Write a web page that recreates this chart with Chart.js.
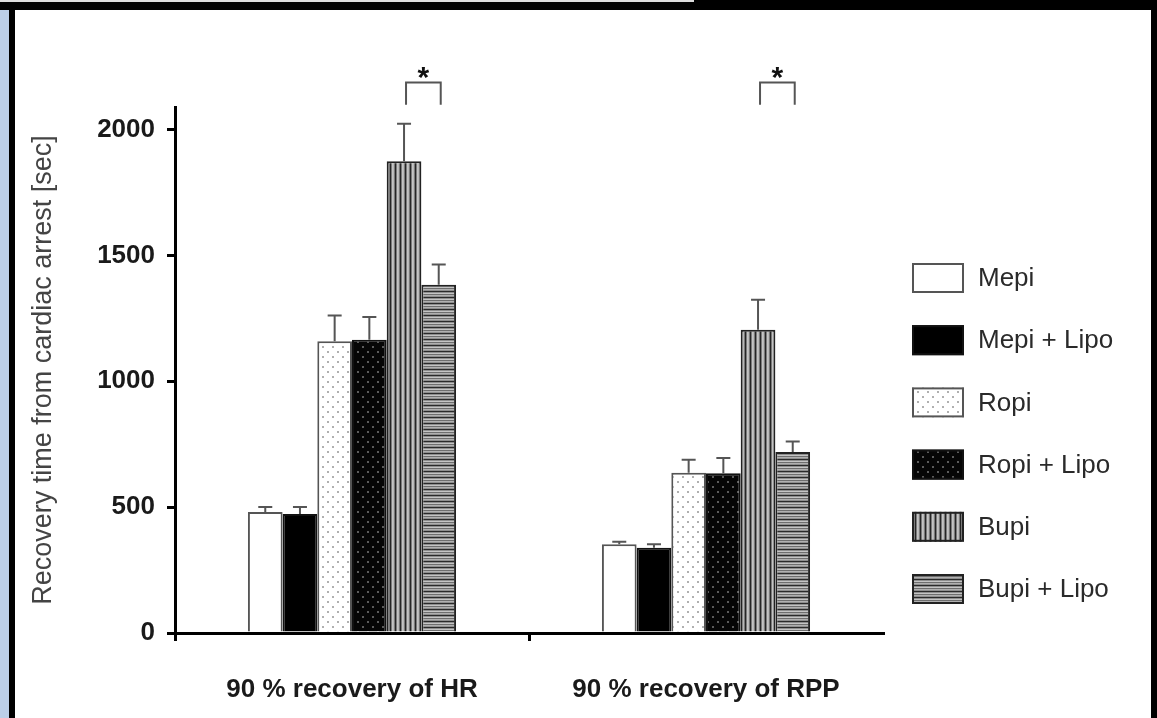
<!DOCTYPE html>
<html>
<head>
<meta charset="utf-8">
<script src="https://cdn.jsdelivr.net/npm/chart.js@4.4.1/dist/chart.umd.min.js"></script>
<style>
  html, body { margin: 0; padding: 0; background: #fff; }
  body { width: 1157px; height: 718px; position: relative; overflow: hidden; }
  .band-top { position: absolute; left: 0; top: 0; width: 1157px; height: 10px; background: #000; }
  .band-top-line { position: absolute; left: 0; top: 0; width: 694px; height: 2px; background: #ddd; }
  .strip-left { position: absolute; left: 0; top: 10px; width: 9px; height: 708px; background: #bccfe8; }
  .border-left { position: absolute; left: 9px; top: 10px; width: 6px; height: 708px; background: #000; }
  .border-right { position: absolute; right: 0; top: 0; width: 6px; height: 718px; background: #000; }
  canvas { position: absolute; left: 15px; top: 9px; }
</style>
</head>
<body>
<canvas id="grafico" width="1136" height="709"></canvas>
<div class="band-top"></div>
<div class="band-top-line"></div>
<div class="strip-left"></div>
<div class="border-left"></div>
<div class="border-right"></div>
<script>
// Datos
const categories = ['90 % recovery of HR', '90 % recovery of RPP'];
const seriesNames = ['Mepi', 'Mepi + Lipo', 'Ropi', 'Ropi + Lipo', 'Bupi', 'Bupi + Lipo'];

const mepi     = [481, 353];
const mepiLipo = [473, 339];
const ropi     = [1159, 637];
const ropiLipo = [1165, 635];
const bupi     = [1874, 1205];
const bupiLipo = [1384, 719];

const mepiErr     = [20, 10];
const mepiLipoErr = [28, 14];
const ropiErr     = [103, 51];
const ropiLipoErr = [91, 60];
const bupiErr     = [149, 119];
const bupiLipoErr = [80, 42];

const yTicks = [0, 500, 1000, 1500, 2000];
const sigMarks = ['*', '*'];   // Bupi vs Bupi + Lipo en cada grupo

const FONT = "'Liberation Sans', Arial, Helvetica, sans-serif";

// Texturas de las barras (estilo blanco y negro de la figura)
function makePattern(w, h, draw) {
  const c = document.createElement('canvas');
  c.width = w; c.height = h;
  const g = c.getContext('2d');
  draw(g);
  return g.createPattern(c, 'repeat');
}

const dotsLight = makePattern(10, 10, g => {
  g.fillStyle = '#fff'; g.fillRect(0, 0, 10, 10);
  g.fillStyle = '#b0b0b0'; g.fillRect(2, 2, 2, 2); g.fillRect(7, 7, 2, 2);
});
const dotsDark = makePattern(10, 10, g => {
  g.fillStyle = '#060606'; g.fillRect(0, 0, 10, 10);
  g.fillStyle = '#5c5c5c'; g.fillRect(2, 2, 2, 2); g.fillRect(7, 7, 2, 2);
});
const vStripes = makePattern(5, 4, g => {
  const cols = ['#262626', '#7a7a7a', '#c4c4c4', '#b8b8b8', '#7a7a7a'];
  cols.forEach((c, i) => { g.fillStyle = c; g.fillRect(i, 0, 1, 4); });
});
const hStripes = makePattern(4, 6, g => {
  const rows = ['#2a2a2a', '#8e8e8e', '#c4c4c4', '#6e6e6e', '#b0b0b0', '#8e8e8e'];
  rows.forEach((c, i) => { g.fillStyle = c; g.fillRect(0, i, 4, 1); });
});

const fills   = ['#ffffff', '#000000', dotsLight, dotsDark, vStripes, hStripes];
const borders = ['#555555', '#111111', '#555555', '#111111', '#222222', '#222222'];
const values  = [mepi, mepiLipo, ropi, ropiLipo, bupi, bupiLipo];
const errors  = [mepiErr, mepiLipoErr, ropiErr, ropiLipoErr, bupiErr, bupiLipoErr];

// Barras de error (solo hacia arriba, con tapa)
const errorBars = {
  id: 'errorBars',
  afterDatasetsDraw(chart) {
    const { ctx, scales: { y } } = chart;
    ctx.save();
    ctx.strokeStyle = '#555';
    ctx.lineWidth = 2;
    chart.data.datasets.forEach((ds, di) => {
      chart.getDatasetMeta(di).data.forEach((bar, i) => {
        const top = y.getPixelForValue(ds.data[i] + ds.errors[i]);
        ctx.beginPath();
        ctx.moveTo(bar.x, bar.y);
        ctx.lineTo(bar.x, top);
        ctx.moveTo(bar.x - 7, top);
        ctx.lineTo(bar.x + 7, top);
        ctx.stroke();
      });
    });
    ctx.restore();
  }
};

// Corchete de significancia entre Bupi y Bupi + Lipo
const sigBrackets = {
  id: 'sigBrackets',
  afterDraw(chart) {
    const { ctx, scales: { y } } = chart;
    const a = chart.getDatasetMeta(4).data;
    const b = chart.getDatasetMeta(5).data;
    const yTop = y.getPixelForValue(2187);
    const yLeg = y.getPixelForValue(2099);
    ctx.save();
    ctx.strokeStyle = '#555';
    ctx.lineWidth = 2;
    sigMarks.forEach((mark, i) => {
      const x1 = a[i].x + 2, x2 = b[i].x + 2;
      ctx.beginPath();
      ctx.moveTo(x1, yLeg); ctx.lineTo(x1, yTop); ctx.lineTo(x2, yTop); ctx.lineTo(x2, yLeg);
      ctx.stroke();
      ctx.fillStyle = '#111';
      ctx.font = 'bold 30px ' + FONT;
      ctx.textAlign = 'center';
      ctx.textBaseline = 'middle';
      ctx.fillText(mark, (x1 + x2) / 2, yTop - 4);
    });
    ctx.restore();
  }
};

// Leyenda a la derecha con las mismas texturas
const sideLegend = {
  id: 'sideLegend',
  afterDraw(chart) {
    const { ctx } = chart;
    ctx.save();
    chart.data.datasets.forEach((ds, i) => {
      const cy = 269 + i * 62.2;
      ctx.fillStyle = ds.backgroundColor;
      ctx.fillRect(897, cy - 15, 52, 30);
      ctx.strokeStyle = ds.borderColor;
      ctx.lineWidth = 2;
      ctx.strokeRect(898, cy - 14, 50, 28);
      ctx.fillStyle = '#2a2a2a';
      ctx.font = '26px ' + FONT;
      ctx.textAlign = 'left';
      ctx.textBaseline = 'middle';
      ctx.fillText(ds.label, 963, cy + 1);
    });
    ctx.restore();
  }
};

const ctx = document.getElementById('grafico').getContext('2d');
new Chart(ctx, {
  type: 'bar',
  data: {
    labels: categories,
    datasets: seriesNames.map((name, i) => ({
      label: name,
      data: values[i],
      errors: errors[i],
      backgroundColor: fills[i],
      borderColor: borders[i],
      borderWidth: 2,
      barPercentage: 1,
      categoryPercentage: 0.588
    }))
  },
  options: {
    responsive: false,
    animation: false,
    layout: { padding: { top: 98, right: 268, bottom: 0, left: 0 } },
    plugins: {
      legend: { display: false },
      tooltip: { enabled: false }
    },
    scales: {
      x: {
        afterFit: s => { s.height = 85; },
        border: { color: '#000', width: 3 },
        grid: {
          drawOnChartArea: false,
          tickLength: 8,
          lineWidth: 3,
          color: c => (c.tick ? '#000' : 'rgba(0,0,0,0)')
        },
        ticks: {
          color: '#1a1a1a',
          font: { family: FONT, size: 26, weight: 'bold' },
          padding: 33,
          maxRotation: 0,
          autoSkip: false
        }
      },
      y: {
        min: 0,
        max: 2090,
        afterFit: s => { s.width = 160; },
        afterBuildTicks: s => { s.ticks = yTicks.map(v => ({ value: v })); },
        border: { color: '#000', width: 3 },
        grid: {
          drawOnChartArea: false,
          tickLength: 8,
          lineWidth: 3,
          color: '#000'
        },
        ticks: {
          color: '#1a1a1a',
          font: { family: FONT, size: 26, weight: 'bold' },
          padding: 12,
          callback: v => String(v)
        },
        title: {
          display: true,
          text: 'Recovery time from cardiac arrest [sec]',
          color: '#444',
          font: { family: FONT, size: 27 },
          padding: { top: 12, bottom: 0 }
        }
      }
    }
  },
  plugins: [errorBars, sigBrackets, sideLegend]
});
</script>
</body>
</html>
